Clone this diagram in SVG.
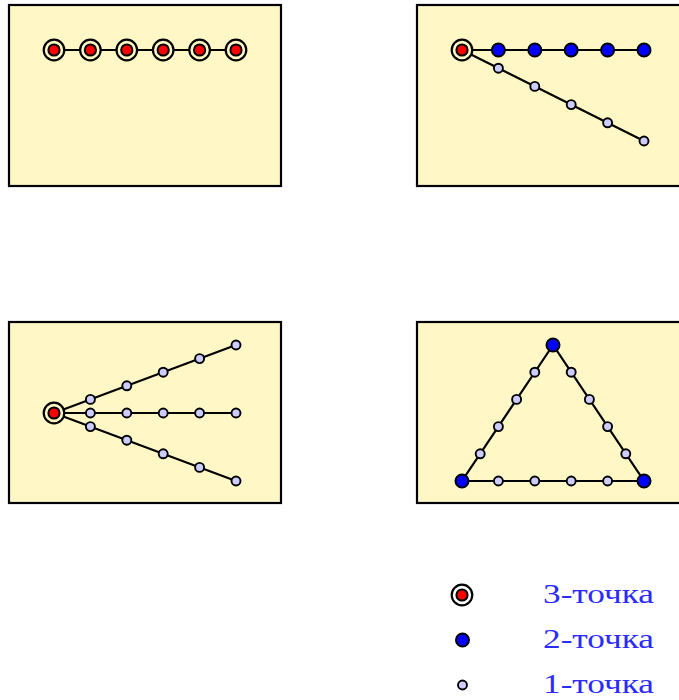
<svg xmlns="http://www.w3.org/2000/svg" width="679" height="700" viewBox="0 0 679 700">
<style>
.panel{fill:#fff8c6;stroke:#000;stroke-width:2.2}
.edge{stroke:#000;stroke-width:2.2;fill:none}
.ring{fill:#fff8c6;stroke:#000;stroke-width:2.2}
.p3{fill:#ff0000;stroke:#000;stroke-width:2}
.p2{fill:#0000ff;stroke:#000;stroke-width:2}
.p1{fill:#ccccff;stroke:#000;stroke-width:1.9}
.lbl{font-family:"Liberation Serif",serif;font-size:27px;fill:#2b2bff}
</style>
<defs>
<g id="n3"><circle r="10.3" class="ring"/><circle r="5.6" class="p3"/></g>
<g id="n2"><circle r="6.5" class="p2"/></g>
<g id="n1"><circle r="4.5" class="p1"/></g>
</defs>

<g id="panel1">
<rect class="panel" x="9" y="5" width="272" height="181"/>
<g id="edges1"><line class="edge" x1="54" y1="50" x2="236" y2="50"/></g>
<use href="#n3" x="54" y="50"/><use href="#n3" x="90.4" y="50"/><use href="#n3" x="126.8" y="50"/><use href="#n3" x="163.2" y="50"/><use href="#n3" x="199.6" y="50"/><use href="#n3" x="236" y="50"/>
</g>

<g id="panel2">
<rect class="panel" x="417" y="5" width="272" height="181"/>
<g id="edges2"><line class="edge" x1="462" y1="50" x2="644" y2="50"/><line class="edge" x1="462" y1="50" x2="644" y2="141"/></g>
<use href="#n3" x="462" y="50"/>
<use href="#n2" x="498.4" y="50"/><use href="#n2" x="534.8" y="50"/><use href="#n2" x="571.2" y="50"/><use href="#n2" x="607.6" y="50"/><use href="#n2" x="644" y="50"/>
<use href="#n1" x="498.4" y="68.2"/><use href="#n1" x="534.8" y="86.4"/><use href="#n1" x="571.2" y="104.6"/><use href="#n1" x="607.6" y="122.8"/><use href="#n1" x="644" y="141"/>
</g>

<g id="panel3">
<rect class="panel" x="9" y="322" width="272" height="181"/>
<g id="edges3"><line class="edge" x1="54" y1="413" x2="236" y2="345"/><line class="edge" x1="54" y1="413" x2="236" y2="413"/><line class="edge" x1="54" y1="413" x2="236" y2="481"/></g>
<use href="#n3" x="54" y="413"/>
<use href="#n1" x="90.4" y="399.4"/><use href="#n1" x="126.8" y="385.8"/><use href="#n1" x="163.2" y="372.2"/><use href="#n1" x="199.6" y="358.6"/><use href="#n1" x="236" y="345"/>
<use href="#n1" x="90.4" y="413"/><use href="#n1" x="126.8" y="413"/><use href="#n1" x="163.2" y="413"/><use href="#n1" x="199.6" y="413"/><use href="#n1" x="236" y="413"/>
<use href="#n1" x="90.4" y="426.6"/><use href="#n1" x="126.8" y="440.2"/><use href="#n1" x="163.2" y="453.8"/><use href="#n1" x="199.6" y="467.4"/><use href="#n1" x="236" y="481"/>
</g>

<g id="panel4">
<rect class="panel" x="417" y="322" width="272" height="181"/>
<g id="edges4"><polygon class="edge" points="553,345 462,481 644,481"/></g>
<use href="#n1" x="480.2" y="453.8"/><use href="#n1" x="498.4" y="426.6"/><use href="#n1" x="516.6" y="399.4"/><use href="#n1" x="534.8" y="372.2"/>
<use href="#n1" x="571.2" y="372.2"/><use href="#n1" x="589.4" y="399.4"/><use href="#n1" x="607.6" y="426.6"/><use href="#n1" x="625.8" y="453.8"/>
<use href="#n1" x="498.4" y="481"/><use href="#n1" x="534.8" y="481"/><use href="#n1" x="571.2" y="481"/><use href="#n1" x="607.6" y="481"/>
<use href="#n2" x="553" y="345"/><use href="#n2" x="462" y="481"/><use href="#n2" x="644" y="481"/>
</g>

<g id="legend">
<g id="leg3"><circle cx="462" cy="595" r="10.3" fill="#fff" stroke="#000" stroke-width="2.2"/><circle cx="462" cy="595" r="5.6" class="p3"/><text class="lbl" x="543" y="603" textLength="111" lengthAdjust="spacingAndGlyphs">3-точка</text></g>
<g id="leg2"><use href="#n2" x="462.5" y="640"/><text class="lbl" x="543" y="648" textLength="111" lengthAdjust="spacingAndGlyphs">2-точка</text></g>
<g id="leg1"><use href="#n1" x="462.5" y="685"/><text class="lbl" x="543" y="693" textLength="111" lengthAdjust="spacingAndGlyphs">1-точка</text></g>
</g>
</svg>
